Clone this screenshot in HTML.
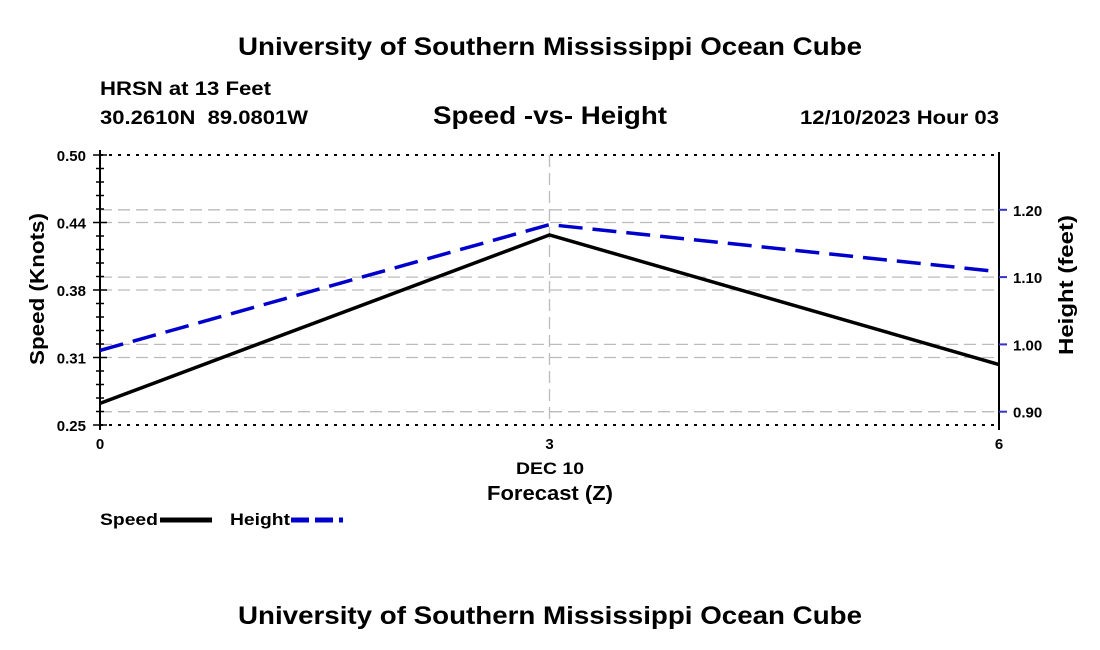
<!DOCTYPE html>
<html><head><meta charset="utf-8"><style>
body{margin:0;background:#fff;}
svg{display:block;font-family:"Liberation Sans",Arial,sans-serif;}
</style></head><body>
<svg id="chart" width="1100" height="650" viewBox="0 0 1100 650">
<text x="238" y="55" font-size="25" font-weight="bold" textLength="624" lengthAdjust="spacingAndGlyphs">University of Southern Mississippi Ocean Cube</text>
<text x="100" y="95" font-size="19" font-weight="bold" textLength="171" lengthAdjust="spacingAndGlyphs">HRSN at 13 Feet</text>
<text x="100" y="124" font-size="19" font-weight="bold" textLength="208" lengthAdjust="spacingAndGlyphs" xml:space="preserve">30.2610N  89.0801W</text>
<text x="433" y="124" font-size="25" font-weight="bold" textLength="234" lengthAdjust="spacingAndGlyphs">Speed -vs- Height</text>
<text x="800" y="124" font-size="19" font-weight="bold" textLength="199" lengthAdjust="spacingAndGlyphs">12/10/2023 Hour 03</text>
<g id="grid"></g>
<g id="axes"></g>
<g id="series"></g>
<text x="516" y="474" font-size="17" font-weight="bold" textLength="68" lengthAdjust="spacingAndGlyphs">DEC 10</text>
<text x="487" y="500" font-size="20" font-weight="bold" textLength="126" lengthAdjust="spacingAndGlyphs">Forecast (Z)</text>
<text transform="translate(44,365) rotate(-90)" font-size="20" font-weight="bold" textLength="152" lengthAdjust="spacingAndGlyphs">Speed (Knots)</text>
<text transform="translate(1073,355) rotate(-90)" font-size="20" font-weight="bold" textLength="140" lengthAdjust="spacingAndGlyphs">Height (feet)</text>
<g>
<text x="100" y="525" font-size="17" font-weight="bold" textLength="58" lengthAdjust="spacingAndGlyphs">Speed</text>
<line x1="160" y1="520" x2="212" y2="520" stroke="#000" stroke-width="5"/>
<text x="230" y="525" font-size="17" font-weight="bold" textLength="60" lengthAdjust="spacingAndGlyphs">Height</text>
<line x1="291" y1="520" x2="343" y2="520" stroke="#00c" stroke-width="5" stroke-dasharray="18,6"/>
</g>
<text x="238" y="624" font-size="25" font-weight="bold" textLength="624" lengthAdjust="spacingAndGlyphs">University of Southern Mississippi Ocean Cube</text>
</svg>
<script>
const hours = [0, 3, 6];
const speed = [0.270, 0.426, 0.306];
const height = [0.991, 1.178, 1.108];
const leftTicks = [0.25, 0.3125, 0.375, 0.4375, 0.50];
const leftTickLabels = ["0.25", "0.31", "0.38", "0.44", "0.50"];
const rightTicks = [0.90, 1.00, 1.10, 1.20];
const rightTickLabels = ["0.90", "1.00", "1.10", "1.20"];
const xTicks = [0, 3, 6];

const X0 = 100, X1 = 999, YT = 155, YB = 425;
const xs = v => X0 + (v - 0) / 6 * (X1 - X0);
const yl = v => YB - (v - 0.25) / 0.25 * (YB - YT);
const yr = v => 411.7 - (v - 0.90) / 0.10 * 67.3;
const NS = "http://www.w3.org/2000/svg";
function mk(parent, tag, attrs) {
  const e = document.createElementNS(NS, tag);
  for (const k in attrs) e.setAttribute(k, attrs[k]);
  parent.appendChild(e);
  return e;
}
const grid = document.getElementById('grid');
const axes = document.getElementById('axes');
const series = document.getElementById('series');

leftTicks.forEach((t, i) => {
  const y = yl(t);
  const edge = (i === 0 || i === leftTicks.length - 1);
  const l = mk(grid, 'line', {x1: X0, x2: X1, y1: y, y2: y, stroke: edge ? '#000' : '#bbb', 'stroke-width': edge ? 2 : 1.3, 'stroke-dasharray': edge ? '3,6' : '12,6'});
  
  
});
rightTicks.forEach(t => {
  const y = yr(t);
  const l = mk(grid, 'line', {x1: X0, x2: X1, y1: y, y2: y, stroke: '#bbb', 'stroke-width': 1.3, 'stroke-dasharray': '12,6'});
  
  
});
const vg = mk(grid, 'line', {x1: xs(3), x2: xs(3), y1: YT, y2: YB, stroke: '#bbb', 'stroke-width': 1.3, 'stroke-dasharray': '12,6'});



const la = mk(axes, 'line', {x1: X0, x2: X0, y1: YT - 5, y2: YB + 5, stroke: '#000', 'stroke-width': 2});


const ra = mk(axes, 'line', {x1: X1, x2: X1, y1: YT - 3, y2: YB + 5, stroke: '#000', 'stroke-width': 2});



for (let v = 0.25; v <= 0.5001; v += 0.0125) {
  const y = yl(v);
  const major = Math.abs(((v - 0.25) / 0.0625) - Math.round((v - 0.25) / 0.0625)) < 1e-6;
  const t = mk(axes, 'line', {x1: X0 - (major ? 7 : 4), x2: X0 + (major ? 7 : 4), y1: y, y2: y, stroke: '#000', 'stroke-width': 1.5});
  
  
}
leftTicks.forEach((t, i) => {
  const tx = mk(axes, 'text', {x: 86, y: yl(t) + 6, 'text-anchor': 'end', 'font-size': 15, 'font-weight': 'bold'});
  tx.textContent = leftTickLabels[i];
  
  
});
rightTicks.forEach((t, i) => {
  const y = yr(t);
  const tk = mk(axes, 'line', {x1: X1, x2: X1 + 8, y1: y, y2: y, stroke: '#33c', 'stroke-width': 2});
  
  
  const tx = mk(axes, 'text', {x: 1013, y: y + 6, 'font-size': 15, 'font-weight': 'bold'});
  tx.textContent = rightTickLabels[i];
  
  
});
xTicks.forEach(t => {
  const tx = mk(axes, 'text', {x: xs(t), y: 449, 'text-anchor': 'middle', 'font-size': 15, 'font-weight': 'bold'});
  tx.textContent = String(t);
  
  
});

const sp = mk(series, 'polyline', {points: hours.map((h, i) => xs(h) + ',' + yl(speed[i])).join(' '), fill: 'none', stroke: '#000', 'stroke-width': 3.5});


const hl = mk(series, 'polyline', {points: hours.map((h, i) => xs(h) + ',' + yr(height[i])).join(' '), fill: 'none', stroke: '#00c', 'stroke-width': 3.5, 'stroke-dasharray': '24,10'});


</script>
</body></html>
